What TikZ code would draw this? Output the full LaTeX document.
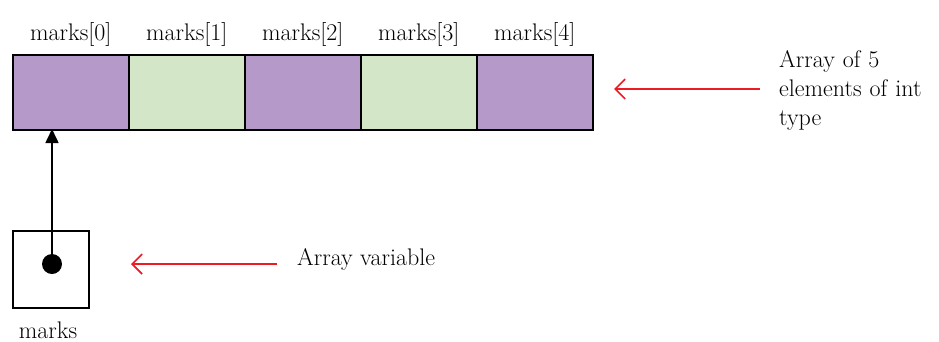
\documentclass[tikz,border=0pt]{standalone}
\usetikzlibrary{arrows.meta}
\definecolor{cellpurple}{RGB}{181,153,200}
\definecolor{cellgreen}{RGB}{211,231,200}
\definecolor{arrred}{RGB}{237,28,36}
\begin{document}
\begin{tikzpicture}[x=1pt,y=-1pt,
  cell/.style={draw=black,line width=1.5pt,minimum width=116pt,minimum height=75pt,inner sep=0pt,anchor=north west},
  lbl/.style={font=\fontsize{24}{29}\selectfont,inner sep=0pt},
  redarrow/.style={draw=arrred,line width=1.6pt,-{Straight Barb[length=10pt,width=20pt,line width=1.6pt]}},
  ptr/.style={draw=black,line width=1.6pt,-{Triangle[length=14pt,width=13pt]}}]
\useasboundingbox (0,0) rectangle (939,341);
\node[cell,fill=cellpurple] (c0) at (12,54) {};
\node[cell,fill=cellgreen] (c1) at (128,54) {};
\node[cell,fill=cellpurple] (c2) at (244,54) {};
\node[cell,fill=cellgreen] (c3) at (360,54) {};
\node[cell,fill=cellpurple] (c4) at (476,54) {};
\foreach \i in {0,...,4}{
  \node[lbl,anchor=base] (l\i) at ([yshift=14pt]c\i.north) {marks[\i]};
}
\node[lbl,anchor=base west,align=left,text width=160pt] (t1) at (779,67) {Array of 5\\elements of int\\type};
\coordinate (a1s) at (760,89);
\coordinate (a1e) at (614,89);
\draw[redarrow] (a1s) -- (a1e);
\node[draw=black,line width=1.5pt,minimum width=76pt,minimum height=77pt,inner sep=0pt,anchor=north west] (box) at (12,230) {};
\node[circle,fill=black,minimum size=20pt,inner sep=0pt] (dot) at (52,264) {};
\coordinate (tgt) at (52,129);
\draw[ptr] (dot.center) -- (tgt);
\node[lbl,anchor=base] (ml) at (48,338) {marks};
\node[lbl,anchor=base west] (t2) at (297,265) {Array variable};
\coordinate (a2s) at (277,264);
\coordinate (a2e) at (131,264);
\draw[redarrow] (a2s) -- (a2e);
\end{tikzpicture}
\end{document}
